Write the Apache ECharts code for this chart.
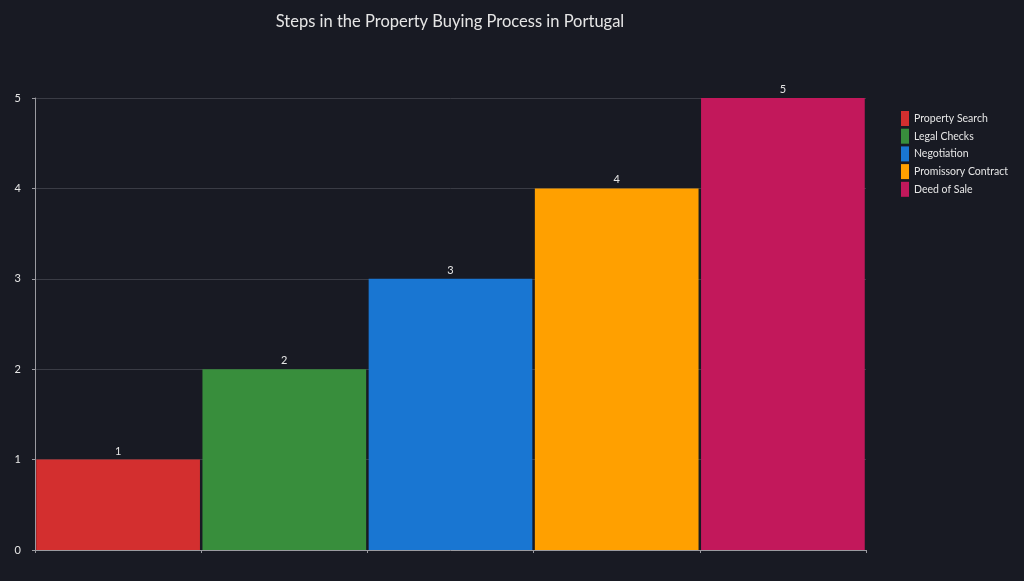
<!DOCTYPE html>
<html><head><meta charset="utf-8">
<script src="https://cdn.jsdelivr.net/npm/echarts@6/dist/echarts.min.js"></script>
<style>html,body{margin:0;padding:0;background:#181a23;}#c{width:1024px;height:581px;}</style>
</head><body><div id="c"></div>
<script>
const categories = ['Property Search','Legal Checks','Negotiation','Promissory Contract','Deed of Sale'];
const values = [1,2,3,4,5];
const colors = ['#d32f2f','#388e3c','#1976d2','#ffa000','#c2185b'];
const yTicks = [0,1,2,3,4,5];

const series = categories.map((name,i)=>({
  name: name,
  type: 'bar',
  stack: 'all',
  barCategoryGap: '1.5%',
  itemStyle: {color: colors[i]},
  label: {show: true, position: 'top', color: '#e6e6e6', fontSize: 11, fontFamily: 'Lato', distance: 3,
    formatter: p => p.value == null ? '' : String(p.value)},
  data: categories.map((c,j)=> j===i ? values[i] : null)
}));

const chart = echarts.init(document.getElementById('c'));
chart.setOption({
  backgroundColor: '#181a23',
  animation: false,
  title: {text: 'Steps in the Property Buying Process in Portugal', left: 445, top: 8, textAlign: 'center',
    textStyle: {color: '#e6e6e6', fontSize: 16.5, fontWeight: 'normal', fontFamily: 'Lato'}},
  legend: {orient: 'vertical', left: 896, top: 106, itemWidth: 8, itemHeight: 15, itemGap: 2.7,
    icon: 'rect', textStyle: {color: '#e6e6e6', fontSize: 10.5, fontFamily: 'Lato'},
    data: categories},
  grid: {left: 35, right: 158, top: 98, bottom: 31, containLabel: false},
  xAxis: {type: 'category', data: categories,
    axisLine: {show: true, lineStyle: {color: '#9a9aa0'}},
    axisTick: {show: true, length: 3, lineStyle: {color: '#9a9aa0'}},
    axisLabel: {show: false}},
  yAxis: {type: 'value', min: 0, max: 5, interval: 1,
    axisLine: {show: true, lineStyle: {color: '#9a9aa0'}},
    axisTick: {show: true, length: 3, lineStyle: {color: '#9a9aa0'}},
    axisLabel: {color: '#e6e6e6', fontSize: 11, fontFamily: 'Lato', margin: 14,
      formatter: v => yTicks.includes(v) ? String(v) : ''},
    splitLine: {show: true, lineStyle: {color: '#3a3c45', width: 1}}},
  series: series
});
</script></body></html>
